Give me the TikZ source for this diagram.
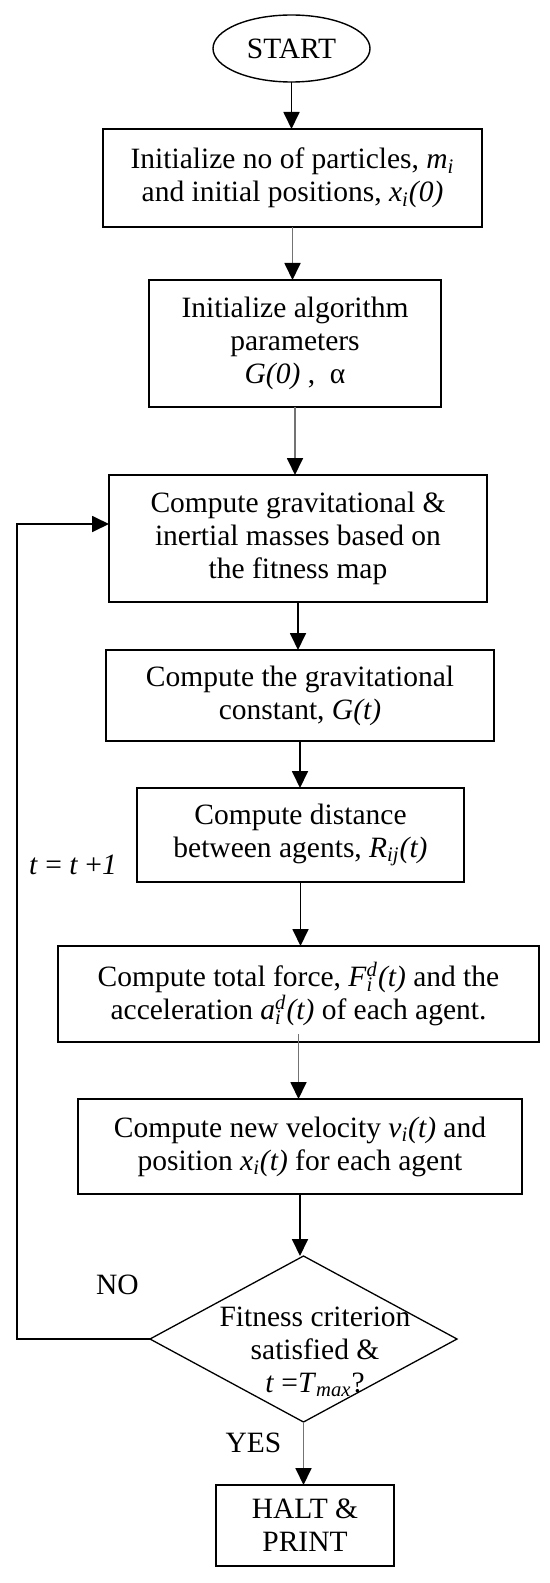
\documentclass[tikz,border=0pt]{standalone}
\usepackage{fontspec}
\setmainfont{Liberation Serif}
\usetikzlibrary{shapes.geometric,arrows.meta}
\newcommand{\ssub}[1]{\textsubscript{\textit{#1}}}
\newcommand{\ssup}[1]{\textsuperscript{\textit{#1}}}
\begin{document}
\begin{tikzpicture}[x=0.5pt,y=-0.5pt,
  font=\fontsize{14.75}{16.5}\selectfont,
  box/.style={draw, line width=0.9pt, align=center, inner sep=0pt, outer sep=0pt},
  arr/.style={line width=0.9pt, -{Triangle[length=8.5pt,width=8pt]}},
  garr/.style={line width=0.9pt, draw=black!55, -{Triangle[length=8.5pt,width=8pt,color=black]}},
  lbl/.style={inner sep=0pt, align=center}]
\fill[white] (0,0) rectangle (550,1583);
\useasboundingbox (0,0) rectangle (550,1583);

\node[ellipse, draw, line width=0.7pt, inner sep=0pt, outer sep=0pt,
      minimum width=78.5pt, minimum height=33.5pt] (start) at (291.5,48.5) {START};

\node[box, minimum width=189.5pt, minimum height=49pt] (b1) at (292.5,178)
  {Initialize no of particles, \textit{m}\ssub{i}\\and initial positions, \textit{x}\ssub{i}\textit{(0)}};
\node[box, minimum width=146pt, minimum height=63.5pt] (b2) at (295,343.5)
  {Initialize algorithm\\parameters\\\textit{G(0)} ,\ \ α};
\node[box, minimum width=189pt, minimum height=63.5pt] (b3) at (298,538.5)
  {Compute gravitational \&\\inertial masses based on\\the fitness map};
\node[box, minimum width=194pt, minimum height=45.5pt] (b4) at (300,695.5)
  {Compute the gravitational\\constant, \textit{G(t)}};
\node[box, minimum width=163.5pt, minimum height=47pt] (b5) at (300.5,835)
  {Compute distance\\between agents, \textit{R}\ssub{ij}\textit{(t)}};
\node[box, minimum width=240.5pt, minimum height=48pt] (b6) at (298.5,994)
  {Compute total force, \textit{F}\rlap{\ssub{i}}\ssup{d}\textit{(t)} and the\\acceleration \textit{a}\rlap{\ssub{i}}\ssup{d}\textit{(t)} of each agent.};
\node[box, minimum width=222pt, minimum height=47.5pt] (b7) at (300,1146.5)
  {Compute new velocity \textit{v}\ssub{i}\textit{(t)} and\\position \textit{x}\ssub{i}\textit{(t)} for each agent};
\node[diamond, draw, line width=0.65pt, inner sep=0pt, outer sep=0pt,
      minimum width=153.5pt, minimum height=83pt] (d) at (303.5,1339) {};
\node[lbl] (dtext) at (315,1351.5)
  {Fitness criterion\\satisfied \&\\\textit{t} =\textit{T}\ssub{max}?};
\node[box, minimum width=89pt, minimum height=40.5pt] (halt) at (305,1525.5)
  {HALT \&\\PRINT};

\node[lbl] (tl) at (73,865) {\textit{t} = \textit{t} +\textit{1}};
\node[lbl] (no) at (117.5,1285) {NO};
\node[lbl] (yes) at (253.5,1443) {YES};

\draw[arr] (start.south) -- (start.south |- b1.north);
\draw[garr] (b1.south) -- (b1.south |- b2.north);
\draw[garr] (b2.south) -- (b2.south |- b3.north);
\draw[arr] (b3.south) -- (b3.south |- b4.north);
\draw[arr] (b4.south) -- (b4.south |- b5.north);
\draw[arr] (b5.south) -- (b5.south |- b6.north);
\draw[garr] ([yshift=4pt]b6.south) -- (b6.south |- b7.north);
\draw[arr] (b7.south) -- (b7.south |- d.north);
\draw[garr] (d.south) -- (d.south |- halt.north);

\coordinate (fb) at (17,524);
\draw[arr] (d.west) -- (d.west -| fb) -- (fb) -- (fb -| b3.west);
\end{tikzpicture}
\end{document}
